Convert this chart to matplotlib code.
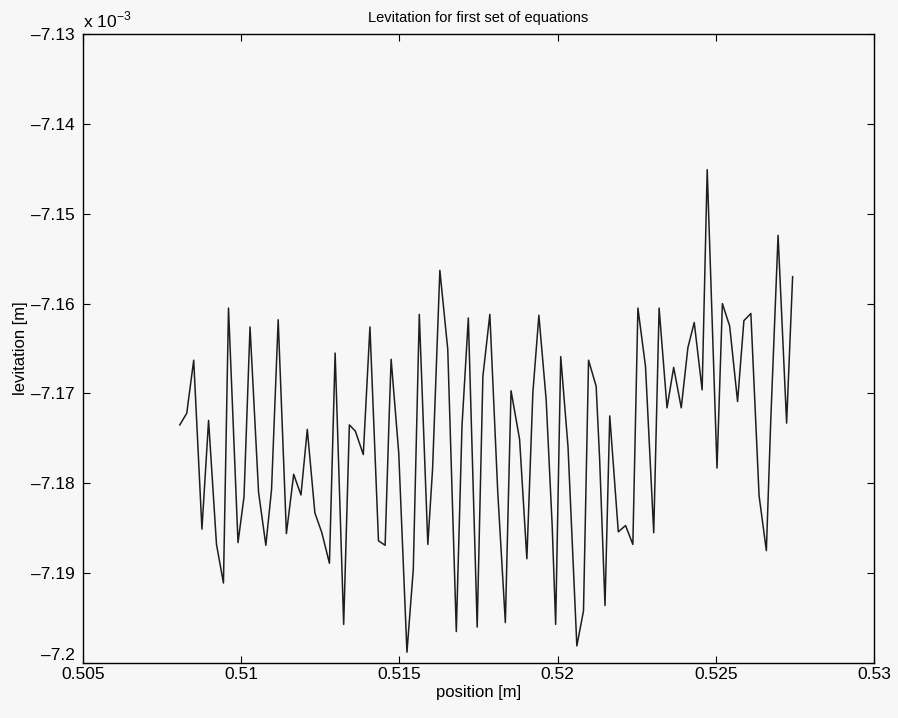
import matplotlib
matplotlib.use("Agg")
from matplotlib import pyplot as plt
from matplotlib.ticker import FuncFormatter

# position [m]
position = [0.50806, 0.50828, 0.50850, 0.50876, 0.50897, 0.50922, 0.50944, 0.50960, 0.50990, 0.51009,
            0.51028, 0.51055, 0.51078, 0.51096, 0.51117, 0.51143, 0.51166, 0.51189, 0.51209, 0.51233,
            0.51255, 0.51279, 0.51297, 0.51324, 0.51342, 0.51361, 0.51386, 0.51407, 0.51434, 0.51455,
            0.51468, 0.51474, 0.51498, 0.51524, 0.51544, 0.51563, 0.51590, 0.51605, 0.51628, 0.51653,
            0.51680, 0.51698, 0.51718, 0.51746, 0.51764, 0.51786, 0.51811, 0.51835, 0.51853, 0.51880,
            0.51903, 0.51922, 0.51941, 0.51964, 0.51983, 0.51994, 0.52010, 0.52033, 0.52061, 0.52082,
            0.52098, 0.52122, 0.52133, 0.52150, 0.52165, 0.52192, 0.52215, 0.52238, 0.52254, 0.52278,
            0.52304, 0.52321, 0.52346, 0.52367, 0.52391, 0.52412, 0.52432, 0.52457, 0.52473, 0.52504,
            0.52521, 0.52544, 0.52569, 0.52589, 0.52611, 0.52637, 0.52660, 0.52674, 0.52697, 0.52724,
            0.52743]

# levitation in units of 1e-3 m
levitation = [-7.1735, -7.1722, -7.1663, -7.1851, -7.1730, -7.1868, -7.1911, -7.1605, -7.1866, -7.1815,
              -7.1626, -7.1810, -7.1869, -7.1807, -7.1618, -7.1856, -7.1790, -7.1813, -7.1740, -7.1833,
              -7.1855, -7.1889, -7.1655, -7.1957, -7.1735, -7.1742, -7.1768, -7.1626, -7.1864, -7.1869,
              -7.1723, -7.1662, -7.1766, -7.1988, -7.1896, -7.1612, -7.1868, -7.1784, -7.1563, -7.1651,
              -7.1965, -7.1736, -7.1616, -7.1960, -7.1681, -7.1612, -7.1810, -7.1955, -7.1697, -7.1751,
              -7.1884, -7.1699, -7.1613, -7.1707, -7.1847, -7.1957, -7.1659, -7.1759, -7.1981, -7.1942,
              -7.1663, -7.1692, -7.1773, -7.1936, -7.1725, -7.1854, -7.1847, -7.1868, -7.1605, -7.1670,
              -7.1855, -7.1605, -7.1716, -7.1671, -7.1716, -7.1649, -7.1621, -7.1696, -7.1451, -7.1783,
              -7.1600, -7.1625, -7.1709, -7.1619, -7.1611, -7.1814, -7.1875, -7.1729, -7.1524, -7.1733,
              -7.1570]

x_ticks = [0.505, 0.51, 0.515, 0.52, 0.525, 0.53]
y_ticks = [-7.2, -7.19, -7.18, -7.17, -7.16, -7.15, -7.14, -7.13]

plt.rcParams["font.family"] = ["Liberation Sans", "DejaVu Sans"]
bg = "#f7f7f7"

fig = plt.figure(figsize=(8.98, 7.18), dpi=100, facecolor=bg)
ax = fig.add_axes([0.0924, 0.0766, 0.8808, 0.876], facecolor=bg)

ax.plot(position, levitation, color="#1e1e1e", linewidth=1.1)

ax.set_xlim(0.505, 0.53)
ax.set_ylim(-7.2, -7.13)
ax.set_xticks(x_ticks)
ax.set_yticks(y_ticks)
fmt = FuncFormatter(lambda v, p: ("%g" % round(v, 4)).replace("-", "\u2013"))
ax.xaxis.set_major_formatter(fmt)
ax.yaxis.set_major_formatter(fmt)
ax.tick_params(direction="in", top=True, right=True, length=5, width=0.8,
               labelsize=12.5, colors="black")
ax.tick_params(axis="y", pad=6)
ax.tick_params(axis="x", pad=3)
# bottom y label sits on the axis line, like the original
ax.yaxis.get_major_ticks()[0].label1.set_verticalalignment("bottom")
for s in ax.spines.values():
    s.set_linewidth(1.0)
    s.set_color("black")

ax.text(0.0, 1.005, "x 10$^{\\mathregular{-3}}$", transform=ax.transAxes,
        fontsize=12.5, ha="left", va="bottom")
ax.set_title("Levitation for first set of equations", fontsize=10.5, pad=9)
ax.set_xlabel("position [m]", fontsize=12, labelpad=2)
ax.set_ylabel("levitation [m]", fontsize=12, labelpad=2)

fig.savefig("out.png", dpi=100, facecolor=bg)
